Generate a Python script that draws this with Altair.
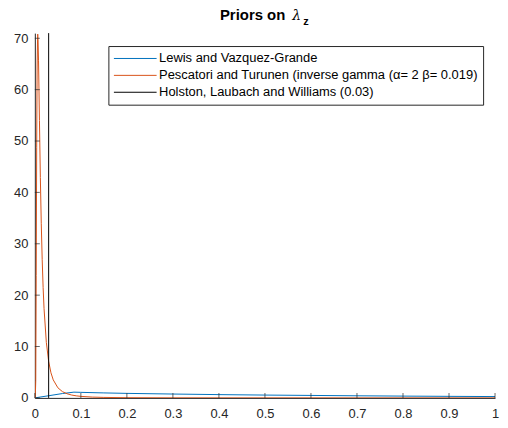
import altair as alt
import pandas as pd

# ---- data ----
series_names = [
    "Lewis and Vazquez-Grande",
    "Pescatori and Turunen (inverse gamma (α= 2 β= 0.019)",
    "Holston, Laubach and Williams (0.03)",
]
series_colors = ["#0072BD", "#D95319", "#000000"]

lewis_x = [0.0, 0.03, 0.06, 0.085, 0.1, 0.15, 0.2, 0.3, 0.4, 0.5, 0.6, 0.7, 0.8, 0.9, 1.0]
lewis_y = [0.0, 0.42, 0.85, 1.12, 1.08, 0.97, 0.88, 0.75, 0.64, 0.55, 0.48, 0.41, 0.35, 0.30, 0.26]

pesc_x = [0.0, 0.001, 0.002, 0.003, 0.004, 0.005, 0.006, 0.0063, 0.007, 0.008, 0.009, 0.010,
          0.012, 0.014, 0.016, 0.018, 0.020, 0.025, 0.030, 0.035, 0.040, 0.050, 0.060,
          0.070, 0.080, 0.090, 0.100, 0.125, 0.150, 0.200, 0.300, 0.400, 0.500, 0.700, 1.0]
pesc_y = [0.0, 0.002, 3.38, 23.8, 48.8, 64.6, 70.4, 70.8, 69.7, 65.6, 60.0, 54.0,
          42.9, 33.9, 26.9, 21.5, 17.4, 10.8, 7.10, 4.89, 3.51, 1.975, 1.218,
          0.802, 0.556, 0.401, 0.299, 0.159, 0.094, 0.041, 0.0126, 0.0054, 0.0028, 0.0010, 0.00035]

holston_x = [0.03, 0.03]
holston_y = [0.0, 71.0]

x_ticks = [0.0, 0.1, 0.2, 0.3, 0.4, 0.5, 0.6, 0.7, 0.8, 0.9, 1.0]
y_ticks = [0, 10, 20, 30, 40, 50, 60, 70]
x_domain = [0, 1]
y_domain = [0, 71]

title_parts = ["Priors on", "λ", "z"]

# ---- build tables ----
rows = []
for name, xs, ys in [(series_names[0], lewis_x, lewis_y),
                     (series_names[1], pesc_x, pesc_y),
                     (series_names[2], holston_x, holston_y)]:
    for i, (xv, yv) in enumerate(zip(xs, ys)):
        rows.append({"series": name, "x": xv, "y": yv, "idx": i})
df = pd.DataFrame(rows)
xt = pd.DataFrame({"x": x_ticks})
yt = pd.DataFrame({"y": y_ticks})

W, H = 463, 367
FONT = "Liberation Sans"
AX = "#262626"

xs = alt.Scale(domain=x_domain, nice=False, zero=False)
ys = alt.Scale(domain=y_domain, nice=False)

lines = alt.Chart(df).mark_line(strokeWidth=1, clip=True).encode(
    x=alt.X("x:Q", scale=xs,
            axis=alt.Axis(values=x_ticks, format="~g", title=None, labelPadding=10,
                          labelFlush=False)),
    y=alt.Y("y:Q", scale=ys,
            axis=alt.Axis(values=y_ticks, title=None, labelPadding=7, labelFlush=False)),
    color=alt.Color("series:N",
                    scale=alt.Scale(domain=series_names, range=series_colors),
                    legend=alt.Legend(
                        title=None, orient="none", legendX=74, legendY=13,
                        symbolType="stroke", symbolSize=1849, symbolStrokeWidth=1,
                        clipHeight=15,
                        labelFont=FONT, labelFontSize=13, labelColor="#000000",
                        labelLimit=400, labelOffset=2,
                        strokeColor=AX, fillColor="#ffffff", padding=5,
                        rowPadding=2)),
    detail="series:N",
    order="idx:Q",
)

xticks = alt.Chart(xt).mark_tick(size=5, thickness=1, color=AX, yOffset=-2.5).encode(
    x=alt.X("x:Q", scale=xs), y=alt.value(H))
yticks = alt.Chart(yt).mark_tick(size=5, thickness=1, color=AX, xOffset=2.5).encode(
    y=alt.Y("y:Q", scale=ys), x=alt.value(0))

t1 = alt.Chart(pd.DataFrame({"t": [title_parts[0]]})).mark_text(
    font=FONT, fontSize=15, fontWeight="bold", align="right", baseline="alphabetic",
    color="#000000").encode(text="t:N", x=alt.value(252), y=alt.value(-13))
t2 = alt.Chart(pd.DataFrame({"t": [title_parts[1]]})).mark_text(
    font="DejaVu Serif", fontSize=14, fontStyle="italic", align="left",
    baseline="alphabetic", color="#000000").encode(
    text="t:N", x=alt.value(259), y=alt.value(-13))
t3 = alt.Chart(pd.DataFrame({"t": [title_parts[2]]})).mark_text(
    font=FONT, fontSize=11, fontWeight="bold", align="left", baseline="alphabetic",
    color="#000000").encode(text="t:N", x=alt.value(270), y=alt.value(-8.5))

chart = alt.layer(lines, xticks, yticks, t1, t2, t3).properties(
    width=W, height=H,
    autosize=alt.AutoSizeParams(type="none"),
    padding={"left": 27, "top": 24, "right": 5, "bottom": 28},
    background="#ffffff",
).configure_view(stroke=None).configure_axis(
    domainColor=AX, domainWidth=1, ticks=False, grid=False,
    labelFont=FONT, labelFontSize=13, labelColor=AX,
)

chart.save("out.html", embed_options={"renderer": "svg", "actions": False})
